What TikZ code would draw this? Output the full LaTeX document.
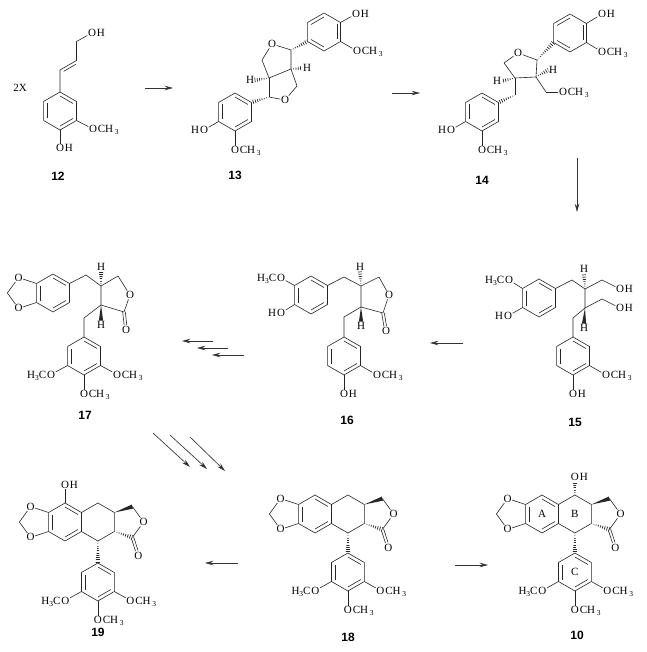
\documentclass[tikz,border=0pt]{standalone}
\usepackage{fontspec}
\setmainfont{Liberation Serif}
\newfontfamily\lblfont{Liberation Sans}
\usetikzlibrary{calc,arrows.meta}
\newcommand\afont{\fontsize{11}{12}\selectfont}
\newcommand\lfont{\fontsize{12}{13}\selectfont}
\newcommand\chsub[1]{\raisebox{-0.45ex}{\fontsize{7.5}{8}\selectfont #1}}
\newcommand\hexa[3]{%
 \coordinate (#1-c) at ({#2},{#3});
 \coordinate (#1-1) at ({#2},{#3-19});
 \coordinate (#1-2) at ({#2+16.45},{#3-9.5});
 \coordinate (#1-3) at ({#2+16.45},{#3+9.5});
 \coordinate (#1-4) at ({#2},{#3+19});
 \coordinate (#1-5) at ({#2-16.45},{#3+9.5});
 \coordinate (#1-6) at ({#2-16.45},{#3-9.5});
 \draw[bond] (#1-1)--(#1-2)--(#1-3)--(#1-4)--(#1-5)--(#1-6)--cycle;}
\newcommand\ringdb[3]{\draw[bond] ($(#1-#2)!4pt!(#1-c)$) -- ($(#1-#3)!4pt!(#1-c)$);}
\newcommand\ringdbA[1]{\ringdb{#1}{5}{6}\ringdb{#1}{1}{2}\ringdb{#1}{3}{4}}
\newcommand\ringdbB[1]{\ringdb{#1}{6}{1}\ringdb{#1}{2}{3}\ringdb{#1}{4}{5}}
\newcommand\hashb[2]{\begin{scope}\clip (#1) -- ($(#2)!2.3pt!90:(#1)$) -- ($(#2)!2.3pt!-90:(#1)$) -- cycle;\draw[line width=5pt,draw=black!85,dash pattern=on 0.7pt off 1.6pt] (#1) -- (#2);\end{scope}}
\newcommand\wedgeb[2]{\fill[black!85] (#1) -- ($(#2)!2.1pt!90:(#1)$) -- ($(#2)!2.1pt!-90:(#1)$) -- cycle;}
\newcommand\dblb[2]{\draw[bond] ($(#1)!1.3pt!90:(#2)$) -- ($(#2)!1.3pt!-90:(#1)$); \draw[bond] ($(#1)!1.3pt!-90:(#2)$) -- ($(#2)!1.3pt!90:(#1)$);}
\newcommand\grpR[3]{\node[atom] (#1) at (#2) {O}; \node[atomt,anchor=base west] (#1t) at (#1.base east) {#3};}
\newcommand\grpL[3]{\node[atom] (#1) at (#2) {O}; \node[atomt,anchor=base east] (#1t) at (#1.base west) {#3};}
\newcommand\podo[4]{%
 \hexa{#1a}{#2}{#3}\ringdbA{#1a}
 \hexa{#1b}{#2+32.9}{#3}
 \hexa{#1c}{#2+32.9}{#4}\ringdbA{#1c}
 \node[atom] (#1o1) at ({#2-34.5},{#3-15.4}) {O};
 \node[atom] (#1o2) at ({#2-34.5},{#3+15.4}) {O};
 \coordinate (#1m) at ({#2-45.6},{#3});
 \draw[bond] (#1a-6) -- (#1o1); \draw[bond] (#1o1) -- (#1m); \draw[bond] (#1m) -- (#1o2); \draw[bond] (#1o2) -- (#1a-5);
 \coordinate (#1k1) at ({#2+67.4},{#3-15.4});
 \node[atom] (#1o3) at ({#2+78.6},{#3}) {O};
 \coordinate (#1k2) at ({#2+67.4},{#3+15.4});
 \node[atom] (#1o4) at ({#2+73.3},{#3+33.5}) {O};
 \wedgeb{#1b-2}{#1k1}
 \draw[bond] (#1k1) -- (#1o3); \draw[bond] (#1o3) -- (#1k2);
 \hashb{#1b-3}{#1k2}
 \coordinate (#1oe) at ($(#1o4)!5pt!(#1k2)$);
 \dblb{#1k2}{#1oe}
 \hashb{#1b-4}{#1c-1}
 \grpL{#1o5}{{#2+32.9-32.5},{#4+18.5}}{H\chsub{3}C}
 \grpR{#1o6}{{#2+32.9+32.5},{#4+18.5}}{CH\,\chsub{3}}
 \grpR{#1o7}{{#2+32.9},{#4+38}}{CH\,\chsub{3}}
 \draw[bond] (#1c-5) -- (#1o5); \draw[bond] (#1c-3) -- (#1o6); \draw[bond] (#1c-4) -- (#1o7);
}
\begin{document}
\begin{tikzpicture}[x=1pt,y=-1pt,
 bond/.style={line width=0.6pt,draw=black!85,line join=round},
 atom/.style={inner sep=0.5pt,font=\afont},
 atomt/.style={inner sep=0pt,font=\afont},
 lbl/.style={font=\lblfont\bfseries\lfont},
 rxn/.style={draw=black!80,line width=0.65pt,-{Stealth[length=8.5pt,width=4.6pt,inset=3pt]}}]
\useasboundingbox (0,0) rectangle (646,652);
\fill[white] (0,0) rectangle (646,652);

% ---------- 12 ----------
\node[atom] (twox) at (20,88) {2X};
\hexa{r12}{60}{111}\ringdbA{r12}
\coordinate (c12a) at (60,70);
\coordinate (c12b) at (76.5,60.5);
\coordinate (c12c) at (76.5,41.5);
\grpR{o12a}{92,33}{H}
\grpR{o12b}{93,129}{CH\,\chsub{3}}
\grpR{o12c}{60,148}{H}
\draw[bond] (r12-1) -- (c12a) -- (c12b) -- (c12c);
\draw[bond] (c12c) -- (o12a);
\draw[bond,shorten <=2.5pt,shorten >=2.5pt] ($(c12a)!3pt!-90:(c12b)$) -- ($(c12b)!3pt!90:(c12a)$);
\draw[bond] (r12-3) -- (o12b);
\draw[bond] (r12-4) -- (o12c);
\node[lbl] (l12) at (58,176) {12};

% arrow 1
\coordinate (a1s) at (145,88); \coordinate (a1e) at (173,88);
\draw[rxn] (a1s) -- (a1e);

% ---------- 13 ----------
\hexa{r13a}{324}{32}\ringdbB{r13a}
\grpR{o13a}{356,14}{H}
\grpR{o13b}{357,51}{CH\,\chsub{3}}
\draw[bond] (r13a-2) -- (o13a); \draw[bond] (r13a-3) -- (o13b);
\hexa{r13b}{235}{112}\ringdbA{r13b}
\grpL{o13c}{204,130}{H}
\grpR{o13d}{235,150}{CH\,\chsub{3}}
\draw[bond] (r13b-5) -- (o13c); \draw[bond] (r13b-4) -- (o13d);
\node[atom] (o13e) at (272,44) {O};
\coordinate (c13a) at (262,60);
\coordinate (c13b) at (269,78);
\coordinate (c13c) at (291,69);
\coordinate (c13d) at (291,50);
\coordinate (c13e) at (269,97);
\node[atom] (o13f) at (285,100) {O};
\coordinate (c13f) at (297,86);
\draw[bond] (o13e) -- (c13d);
\draw[bond] (c13d) -- (c13c) -- (c13b) -- (c13a);
\draw[bond] (c13a) -- (o13e);
\draw[bond] (c13b) -- (c13e);
\draw[bond] (c13e) -- (o13f);
\draw[bond] (o13f) -- (c13f);
\draw[bond] (c13f) -- (c13c);
\node[atom] (h13a) at (307,68) {H};
\node[atom] (h13b) at (250,80) {H};
\hashb{c13c}{h13a.west}
\hashb{c13b}{h13b.east}
\hashb{c13d}{r13a-5}
\hashb{c13e}{r13b-2}
\node[lbl] (l13) at (235,175) {13};

% arrow 2
\coordinate (a2s) at (392,93); \coordinate (a2e) at (420,93);
\draw[rxn] (a2s) -- (a2e);

% ---------- 14 ----------
\hexa{r14a}{570}{33}\ringdbB{r14a}
\grpR{o14a}{602,14}{H}
\grpR{o14b}{602,52}{CH\,\chsub{3}}
\draw[bond] (r14a-2) -- (o14a); \draw[bond] (r14a-3) -- (o14b);
\hexa{r14b}{482}{112}\ringdbA{r14b}
\grpL{o14c}{451,130}{H}
\grpR{o14d}{482,150}{CH\,\chsub{3}}
\draw[bond] (r14b-5) -- (o14c); \draw[bond] (r14b-4) -- (o14d);
\node[atom] (o14e) at (518,53) {O};
\coordinate (c14a) at (537,60);
\coordinate (c14b) at (536,77);
\coordinate (c14c) at (515,78);
\coordinate (c14d) at (504,63);
\coordinate (c14e) at (546,92);
\coordinate (c14f) at (515,95);
\grpR{o14f}{563,92}{CH\,\chsub{3}}
\draw[bond] (o14e) -- (c14a);
\draw[bond] (c14a) -- (c14b) -- (c14c) -- (c14d);
\draw[bond] (c14d) -- (o14e);
\draw[bond] (c14b) -- (c14e);
\draw[bond] (c14e) -- (o14f);
\draw[bond] (c14c) -- (c14f);
\node[atom] (h14a) at (553,70) {H};
\node[atom] (h14b) at (497,81) {H};
\hashb{c14b}{h14a.west}
\hashb{c14c}{h14b.east}
\hashb{c14a}{r14a-5}
\hashb{c14f}{r14b-2}
\node[lbl] (l14) at (482,180) {14};

% arrow 3
\coordinate (a3s) at (577,158); \coordinate (a3e) at (577,212);
\draw[rxn] (a3s) -- (a3e);

% ---------- 15 ----------
\hexa{r15a}{539}{298}\ringdbA{r15a}
\grpL{o15a}{509,280}{H\chsub{3}C}
\grpL{o15b}{508,316}{H}
\draw[bond] (r15a-6) -- (o15a); \draw[bond] (r15a-5) -- (o15b);
\coordinate (c15a) at (572,280);
\coordinate (c15b) at (585,289);
\coordinate (c15c) at (602,280);
\grpR{o15c}{620,289}{H}
\coordinate (c15d) at (585,308);
\coordinate (c15e) at (602,299);
\grpR{o15d}{620,308}{H}
\coordinate (c15f) at (573,318);
\hexa{r15b}{573}{356}\ringdbA{r15b}
\grpR{o15e}{606,375}{CH\,\chsub{3}}
\grpR{o15f}{573,394}{H}
\draw[bond] (r15a-2) -- (c15a) -- (c15b) -- (c15c);
\draw[bond] (c15c) -- (o15c);
\draw[bond] (c15b) -- (c15d) -- (c15e);
\draw[bond] (c15e) -- (o15d);
\draw[bond] (c15d) -- (c15f) -- (r15b-1);
\draw[bond] (r15b-3) -- (o15e);
\draw[bond] (r15b-4) -- (o15f);
\node[atom] (h15a) at (584,269) {H};
\node[atom] (h15b) at (584,328) {H};
\hashb{c15b}{h15a.south}
\wedgeb{c15d}{h15b.north}
\node[lbl] (l15) at (575,422) {15};

% arrow 4
\coordinate (a4s) at (463,343); \coordinate (a4e) at (430,343);
\draw[rxn] (a4s) -- (a4e);

% ---------- 16 ----------
\hexa{r16a}{311}{295}\ringdbA{r16a}
\grpL{o16a}{281,278}{H\chsub{3}C}
\grpL{o16b}{281,313}{H}
\draw[bond] (r16a-6) -- (o16a); \draw[bond] (r16a-5) -- (o16b);
\coordinate (c16a) at (344,277);
\coordinate (c16b) at (361,286);
\coordinate (c16c) at (379,277);
\node[atom] (o16c) at (389,295) {O};
\coordinate (c16d) at (383,313);
\node[atom] (o16d) at (386,331) {O};
\coordinate (c16e) at (361,307);
\coordinate (c16f) at (344,317);
\hexa{r16b}{344}{356}\ringdbA{r16b}
\grpR{o16e}{377,375}{CH\,\chsub{3}}
\grpR{o16f}{344,394}{H}
\draw[bond] (r16a-2) -- (c16a) -- (c16b) -- (c16c);
\draw[bond] (c16c) -- (o16c);
\draw[bond] (o16c) -- (c16d);
\draw[bond] (c16d) -- (c16e) -- (c16b);
\draw[bond] (c16e) -- (c16f) -- (r16b-1);
\coordinate (o16x) at ($(o16d)!5pt!(c16d)$);
\dblb{c16d}{o16x}
\draw[bond] (r16b-3) -- (o16e);
\draw[bond] (r16b-4) -- (o16f);
\node[atom] (h16a) at (360,267) {H};
\node[atom] (h16b) at (361,326) {H};
\hashb{c16b}{h16a.south}
\wedgeb{c16e}{h16b.north}
\node[lbl] (l16) at (347,420) {16};

% triple arrows left
\coordinate (t1s) at (213,341); \coordinate (t1e) at (182,341);
\coordinate (t2s) at (228,348); \coordinate (t2e) at (197,348);
\coordinate (t3s) at (244,355); \coordinate (t3e) at (212,355);
\draw[rxn] (t1s) -- (t1e);
\draw[rxn] (t2s) -- (t2e);
\draw[rxn] (t3s) -- (t3e);

% ---------- 17 ----------
\hexa{r17a}{53}{293}\ringdbA{r17a}
\node[atom] (o17a) at (18.5,277.6) {O};
\node[atom] (o17b) at (18.5,308.4) {O};
\coordinate (c17m) at (7.4,293);
\draw[bond] (r17a-6) -- (o17a); \draw[bond] (o17a) -- (c17m);
\draw[bond] (c17m) -- (o17b); \draw[bond] (o17b) -- (r17a-5);
\coordinate (c17a) at (86,275);
\coordinate (c17b) at (101,286);
\coordinate (c17c) at (118,276);
\node[atom] (o17c) at (130,295) {O};
\coordinate (c17d) at (124,312);
\node[atom] (o17d) at (126,330) {O};
\coordinate (c17e) at (101,305);
\coordinate (c17f) at (84,318);
\hexa{r17b}{84}{356}\ringdbA{r17b}
\grpL{o17e}{51,374.5}{H\chsub{3}C}
\grpR{o17f}{117,374.5}{CH\,\chsub{3}}
\grpR{o17g}{84,394}{CH\,\chsub{3}}
\draw[bond] (r17a-2) -- (c17a) -- (c17b) -- (c17c);
\draw[bond] (c17c) -- (o17c);
\draw[bond] (o17c) -- (c17d);
\draw[bond] (c17d) -- (c17e) -- (c17b);
\draw[bond] (c17e) -- (c17f) -- (r17b-1);
\coordinate (o17x) at ($(o17d)!5pt!(c17d)$);
\dblb{c17d}{o17x}
\draw[bond] (r17b-5) -- (o17e);
\draw[bond] (r17b-3) -- (o17f);
\draw[bond] (r17b-4) -- (o17g);
\node[atom] (h17a) at (101,267) {H};
\node[atom] (h17b) at (101,325) {H};
\hashb{c17b}{h17a.south}
\wedgeb{c17e}{h17b.north}
\node[lbl] (l17) at (85,415) {17};

% triple diagonal arrows
\coordinate (d1s) at (153,433); \coordinate (d1e) at (190,467);
\coordinate (d2s) at (170,435); \coordinate (d2e) at (207,469);
\coordinate (d3s) at (190,437); \coordinate (d3e) at (225,471);
\draw[rxn] (d1s) -- (d1e);
\draw[rxn] (d2s) -- (d2e);
\draw[rxn] (d3s) -- (d3e);

% ---------- 18 ----------
\podo{p18}{315}{514}{572}
\node[lbl] (l18) at (348,637) {18};

% ---------- 19 ----------
\podo{p19}{65}{522}{582}
\grpR{p19o8}{65,485}{H}
\draw[bond] (p19a-1) -- (p19o8);
\node[lbl] (l19) at (98,632) {19};

% ---------- 10 ----------
\podo{p10}{542}{514}{572}
\grpR{p10o8}{574.9,477}{H}
\hashb{p10b-1}{p10o8.south}
\node[atom] (ringA) at (542,514) {A};
\node[atom] (ringB) at (574.9,514) {B};
\node[atom] (ringC) at (574.9,572) {C};
\node[lbl] (l10) at (577,635) {10};

% bottom arrows
\coordinate (b1s) at (238,563); \coordinate (b1e) at (205,563);
\draw[rxn] (b1s) -- (b1e);
\coordinate (b2s) at (455,565); \coordinate (b2e) at (488,565);
\draw[rxn] (b2s) -- (b2e);
\end{tikzpicture}
\end{document}
